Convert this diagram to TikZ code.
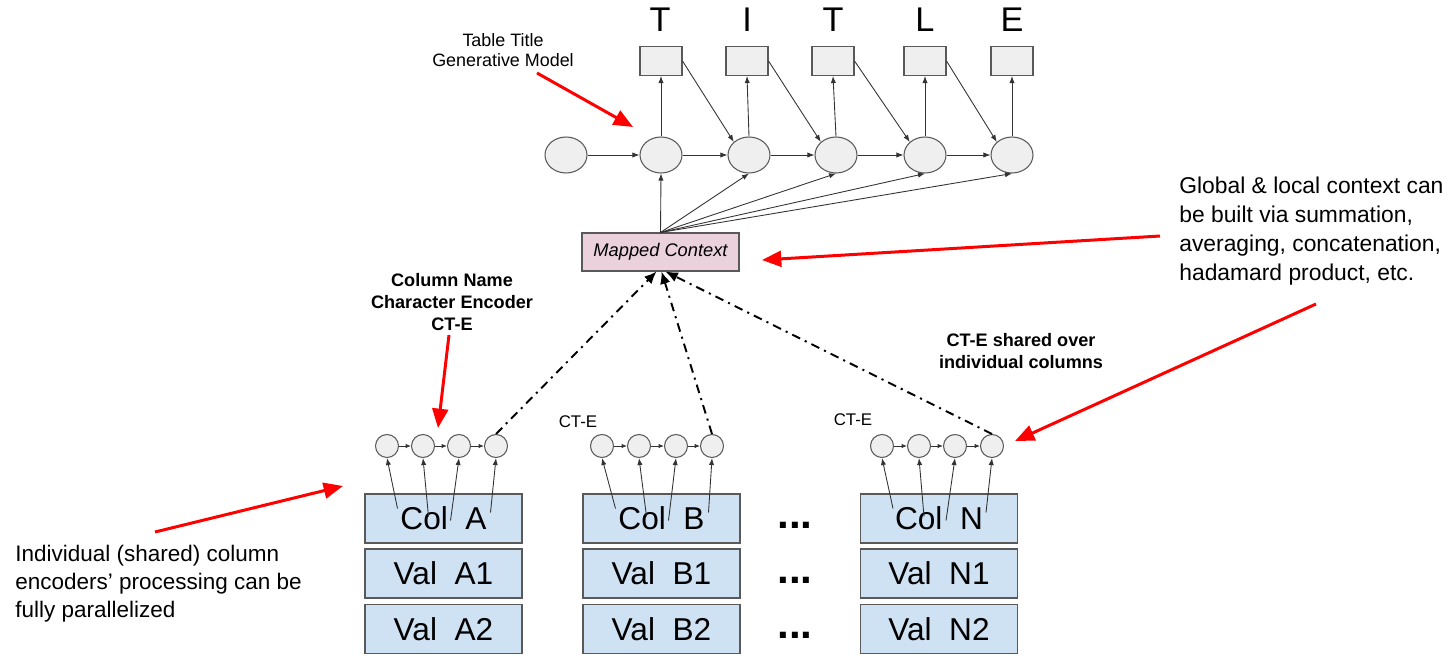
\documentclass[tikz,border=0pt]{standalone}
\usepackage{fontspec}
\setmainfont{Liberation Sans}
\usetikzlibrary{shapes.geometric,arrows.meta,calc}
\definecolor{cellblue}{HTML}{CFE2F3}
\definecolor{ctxpink}{HTML}{EAD1DC}
\definecolor{nodegray}{HTML}{EFEFEF}
\definecolor{edgegray}{HTML}{595959}
\definecolor{redarrow}{HTML}{FF0000}
\begin{document}
\begin{tikzpicture}[x=0.02cm,y=-0.02cm,
  rnn/.style={ellipse, draw=edgegray, fill=nodegray, line width=0.6pt, minimum width=0.84cm, minimum height=0.72cm, inner sep=0pt},
  outbox/.style={rectangle, draw=edgegray, fill=nodegray, line width=0.6pt, minimum width=0.84cm, minimum height=0.58cm, inner sep=0pt},
  letter/.style={font=\fontsize{19.5}{22}\selectfont, inner sep=0pt},
  enc/.style={circle, draw=edgegray, fill=nodegray, line width=0.6pt, minimum size=0.46cm, inner sep=0pt},
  cell/.style={rectangle, draw=edgegray, fill=cellblue, line width=0.7pt, minimum width=3.14cm, minimum height=0.98cm, inner sep=0pt, font=\fontsize{18}{21}\selectfont},
  ctx/.style={rectangle, draw=edgegray, fill=ctxpink, line width=0.6pt, minimum width=3.14cm, minimum height=0.76cm, inner sep=0pt, font=\fontsize{10.4}{12}\selectfont\itshape},
  thinarr/.style={draw=black!80, line width=0.5pt, -{Latex[length=4pt,width=3pt]}},
  tinyarr/.style={draw=black!80, line width=0.5pt, -{Latex[length=3pt,width=2.5pt]}},
  ddarr/.style={draw=black, line width=1.1pt, dash pattern=on 5pt off 3pt on 1.2pt off 3pt, -{Latex[length=7pt,width=6pt]}},
  redarr/.style={draw=redarrow, line width=1.7pt, -{Triangle[length=11pt,width=9pt]}},
  note/.style={font=\fontsize{13}{16.4}\selectfont, align=left, inner sep=0pt},
  boldlab/.style={font=\fontsize{10.3}{12.5}\selectfont\bfseries, align=center, inner sep=0pt},
  smalllab/.style={font=\fontsize{9.6}{11}\selectfont, inner sep=0pt},
  dots/.style={font=\fontsize{24}{26}\selectfont\bfseries, inner sep=0pt, anchor=base}
]
\useasboundingbox (0,0) rectangle (1450,659);

% title letters
\node[letter] (t1) at (660,20) {T};
\node[letter] (t2) at (747,20) {I};
\node[letter] (t3) at (833,20) {T};
\node[letter] (t4) at (925,20) {L};
\node[letter] (t5) at (1012,20) {E};

% output boxes
\node[outbox] (o1) at (661,61) {};
\node[outbox] (o2) at (747,61) {};
\node[outbox] (o3) at (833,61) {};
\node[outbox] (o4) at (925,61) {};
\node[outbox] (o5) at (1012,61) {};

% RNN cells
\node[rnn] (e0) at (566,155) {};
\node[rnn] (e1) at (661,155) {};
\node[rnn] (e2) at (749,155) {};
\node[rnn] (e3) at (836,155) {};
\node[rnn] (e4) at (925,155) {};
\node[rnn] (e5) at (1012,155) {};

\foreach \a/\b in {e0/e1,e1/e2,e2/e3,e3/e4,e4/e5} \draw[thinarr] (\a.east) -- (\b.west);
\foreach \i in {1,...,5} \draw[thinarr] (e\i.north) -- (o\i.south);
\foreach \a/\b in {o1/e2,o2/e3,o3/e4,o4/e5} \draw[thinarr] (\a.east) -- (\b.north west);

% mapped context
\node[ctx] (ctx) at (660.5,252) {Mapped Context};
\foreach \i in {1,...,5} \draw[thinarr] (ctx.north) -- (e\i.south);

% table cells
\node[cell] (colA) at (443.5,518.5) {Col~~A};
\node[cell] (valA1) at (443.5,573.5) {Val~~A1};
\node[cell] (valA2) at (443.5,629) {Val~~A2};
\node[cell] (colB) at (661.5,518.5) {Col~~B};
\node[cell] (valB1) at (661.5,573.5) {Val~~B1};
\node[cell] (valB2) at (661.5,629) {Val~~B2};
\node[cell] (colN) at (939,518.5) {Col~~N};
\node[cell] (valN1) at (939,573.5) {Val~~N1};
\node[cell] (valN2) at (939,629) {Val~~N2};

\node[dots] (d1) at (795,528) {...};
\node[dots] (d2) at (795,583) {...};
\node[dots] (d3) at (795,638) {...};

% encoders
\node[enc] (ca1) at (387,446) {};
\node[enc] (ca2) at (423,446) {};
\node[enc] (ca3) at (459,446) {};
\node[enc] (ca4) at (496,446) {};
\node[enc] (cb1) at (602,446) {};
\node[enc] (cb2) at (639,446) {};
\node[enc] (cb3) at (676,446) {};
\node[enc] (cb4) at (712,446) {};
\node[enc] (cn1) at (882,446) {};
\node[enc] (cn2) at (919,446) {};
\node[enc] (cn3) at (955,446) {};
\node[enc] (cn4) at (992,446) {};

\foreach \g in {a,b,n}{
  \draw[tinyarr] (c\g1.east) -- (c\g2.west);
  \draw[tinyarr] (c\g2.east) -- (c\g3.west);
  \draw[tinyarr] (c\g3.east) -- (c\g4.west);
}
\foreach \c/\g in {colA/a,colB/b,colN/n}{
  \draw[thinarr] ($(\c)+(-46,-10)$) -- (c\g1.south);
  \draw[thinarr] ($(\c)+(-15,-2)$) -- (c\g2.south);
  \draw[thinarr] ($(\c)+(7,2)$) -- (c\g3.south);
  \draw[thinarr] ($(\c)+(47,-6)$) -- (c\g4.south);
}

\node[smalllab] (lb) at (578,422) {CT-E};
\node[smalllab] (ln) at (853,420) {CT-E};

% dash-dot arrows to mapped context
\draw[ddarr] (ca4.north) -- ($(ctx.south)+(-4,0)$);
\draw[ddarr] (cb4.north) -- ($(ctx.south)+(1,0)$);
\draw[ddarr] (cn4.north) -- ($(ctx.south)+(5,0)$);

% annotations
\node[font=\fontsize{10.2}{11.4}\selectfont, align=center, inner sep=0pt] (ttl) at (503,50) {Table Title\\Generative Model};
\node[boldlab] (cne) at (452,302) {Column Name\\Character Encoder\\CT-E};
\node[boldlab] (cts) at (1021,351) {CT-E shared over\\individual columns};
\node[note, anchor=west] (glob) at (1179,231) {Global \& local context can\\be built via summation,\\averaging, concatenation,\\hadamard product, etc.};
\node[note, anchor=west, font=\fontsize{12.8}{16}\selectfont] (indiv) at (15,584) {Individual (shared) column\\encoders’ processing can be\\fully parallelized};

% red arrows
\coordinate (r1s) at (537,73); \coordinate (r1e) at (633,127);
\coordinate (r2s) at (449,335); \coordinate (r2e) at (438,428);
\coordinate (r3s) at (1160,236); \coordinate (r3e) at (762,260);
\coordinate (r4s) at (1316,304); \coordinate (r4e) at (1015,441);
\coordinate (r5s) at (155,532); \coordinate (r5e) at (343,486);
\draw[redarr] (r1s) -- (r1e);
\draw[redarr] (r2s) -- (r2e);
\draw[redarr] (r3s) -- (r3e);
\draw[redarr] (r4s) -- (r4e);
\draw[redarr] (r5s) -- (r5e);
\end{tikzpicture}
\end{document}
